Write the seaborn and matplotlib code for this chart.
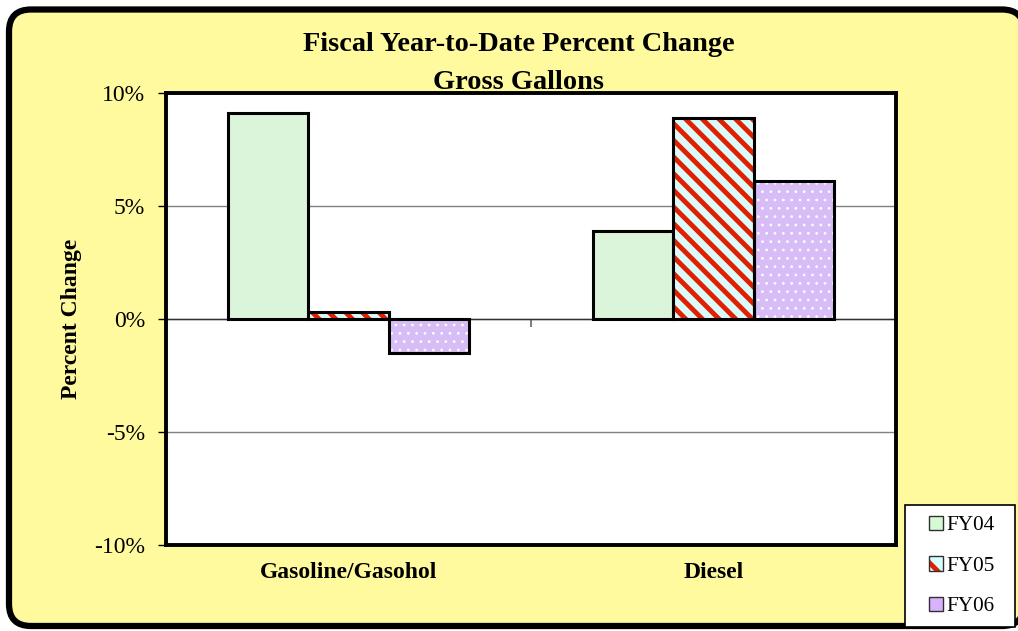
import numpy as np
import pandas as pd
import matplotlib
matplotlib.use("Agg")
import matplotlib.pyplot as plt
import seaborn as sns
from matplotlib.patches import FancyBboxPatch, Rectangle
from matplotlib.ticker import MultipleLocator, FuncFormatter
from matplotlib.legend_handler import HandlerTuple

# ---- data ----
categories = ["Gasoline/Gasohol", "Diesel"]
series = ["FY04", "FY05", "FY06"]
fy04 = [9.1, 3.9]
fy05 = [0.3, 8.9]
fy06 = [-1.5, 6.1]

c04 = "#D6FAD4"
c05 = "#D6FFFF"
c05_hatch = "#E02000"
c06 = "#D8B2FF"

sns.set_theme(style="white")
plt.rcParams["font.family"] = ["Liberation Serif", "DejaVu Serif"]
plt.rcParams["text.color"] = "black"
plt.rcParams["axes.labelcolor"] = "black"
plt.rcParams["xtick.color"] = "black"
plt.rcParams["ytick.color"] = "black"
plt.rcParams["hatch.linewidth"] = 3.5

df = pd.DataFrame({
    "category": categories * 3,
    "series": np.repeat(series, len(categories)),
    "value": fy04 + fy05 + fy06,
})

fig = plt.figure(figsize=(10.18, 6.31), dpi=100)
fig.patch.set_facecolor("white")

# yellow rounded background
bg = FancyBboxPatch((0.09, 0.05), 10.15, 6.165,
                    boxstyle="round,pad=0,rounding_size=0.22",
                    transform=fig.dpi_scale_trans, facecolor="#FFFA9E",
                    edgecolor="black", linewidth=4.5, zorder=-5)
fig.patches.append(bg)

ax = fig.add_axes([166 / 1018, 1 - 545 / 631, 730 / 1018, 452 / 631])
ax.set_facecolor("white")

sns.barplot(data=df, x="category", y="value", hue="series",
            order=categories, hue_order=series,
            palette=[c04, c05, c06], width=0.66,
            edgecolor="black", linewidth=2.2, legend=False, ax=ax)

# hatch styling
def style_hatched(container, hatch, hcolor, hlw):
    for bar in container:
        bar.set_hatch(hatch)
        bar.set_edgecolor(hcolor)
        bar.set_linewidth(0)
        if hasattr(bar, "set_hatch_linewidth"):
            bar.set_hatch_linewidth(hlw)
        outline = Rectangle(bar.get_xy(), bar.get_width(), bar.get_height(),
                            fill=False, edgecolor="black", linewidth=2.2,
                            zorder=bar.get_zorder() + 0.1)
        ax.add_patch(outline)

style_hatched(ax.containers[1], "\\\\", c05_hatch, 3.5)
style_hatched(ax.containers[2], "..", "#F4FFFF", 0.8)

ax.set_ylim(-10, 10)
ax.yaxis.set_major_locator(MultipleLocator(5))
ax.yaxis.set_major_formatter(FuncFormatter(lambda v, p: f"{v:.0f}%"))
ax.set_axisbelow(True)
ax.yaxis.grid(True, color="#808080", linewidth=1)
ax.axhline(0, color="#303030", linewidth=1, zorder=0.6)

ax.tick_params(axis="y", left=True, direction="out", length=6, width=1,
               color="black", labelcolor="black", labelsize=17, pad=9)
ax.tick_params(axis="x", bottom=False, length=0, labelcolor="black",
               labelsize=17, pad=12)
for lab in ax.get_xticklabels():
    lab.set_fontweight("bold")
ax.set_xlabel("")
ax.set_ylabel("Percent Change", fontsize=17, fontweight="bold", color="black")
ax.yaxis.set_label_coords(-0.13, 0.5)
ax.yaxis.label.set_va("center")
ax.yaxis.label.set_ha("center")

for sp in ax.spines.values():
    sp.set_visible(True)
    sp.set_color("black")
    sp.set_linewidth(2.8)

# category separator tick on the zero line
sec = ax.secondary_xaxis(0.5)
sec.set_xticks([0.5])
sec.tick_params(axis="x", which="both", bottom=True, top=False,
                labelbottom=False, labeltop=False, direction="out",
                length=6, width=1.5, color="#808080")
sec.spines[:].set_visible(False)

# title
fig.text(518.5 / 1018, 1 - 51 / 631, "Fiscal Year-to-Date Percent Change",
         ha="center", va="baseline", fontsize=20.4, fontweight="bold",
         color="black")
fig.text(518.5 / 1018, 1 - 89 / 631, "Gross Gallons",
         ha="center", va="baseline", fontsize=20.4, fontweight="bold",
         color="black")

# legend
fig.patches.append(Rectangle((905 / 1018, 4 / 631), 110 / 1018, 122 / 631,
                             transform=fig.transFigure, facecolor="white",
                             edgecolor="black", linewidth=1.2, zorder=5))
h04 = Rectangle((0, 0), 1, 1, facecolor=c04, edgecolor="#303030", linewidth=1)
h05 = Rectangle((0, 0), 1, 1, facecolor=c05, edgecolor=c05_hatch, linewidth=0,
                hatch="\\")
h05o = Rectangle((0, 0), 1, 1, fill=False, edgecolor="#303030", linewidth=1)
h06 = Rectangle((0, 0), 1, 1, facecolor=c06, edgecolor="#303030", linewidth=1)
leg = fig.legend([h04, (h05, h05o), h06], series, loc="center",
                 bbox_to_anchor=(962 / 1018, 1 - 566 / 631),
                 frameon=False, fontsize=15.3, labelspacing=0.98,
                 handlelength=0.66, handleheight=0.66, handletextpad=0.15,
                 handler_map={tuple: HandlerTuple(ndivide=1, pad=0)})
for t in leg.get_texts():
    t.set_color("black")
leg.set_zorder(6)

fig.savefig("out.png", dpi=100)
